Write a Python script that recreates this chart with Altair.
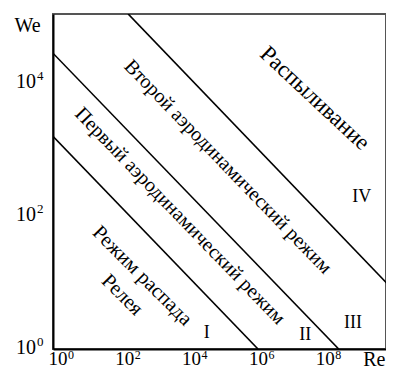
import altair as alt
import pandas as pd

# Boundary lines (Re, We endpoints)
line_id = ["I", "I", "II", "II", "III", "III"]
line_re = [0.5, 6.9e5, 0.5, 1.8e8, 89, 7.6e9]
line_we = [1585, 1, 28200, 1, 1.1e5, 7.8]

# Region labels
label_text = ["Распыливание", "Второй аэродинамический режим", "Первый аэродинамический режим",
              "Режим распада", "Релея", "I", "II", "III", "IV"]
label_re = [3.5e7, 8.7e4, 3.2e3, 234, 59, 2.0e4, 1.8e7, 4.8e8, 8.9e8]
label_we = [5900, 550, 100, 12.6, 6.5, 1.74, 1.62, 2.5, 194]
label_angle = [43, 46, 46, 45, 45, 0, 0, 0, 0]
label_size = [23, 20, 20, 20.5, 20.5, 18, 18, 18, 18]

# Tick labels (10^n)
x_ticks = [1, 1e2, 1e4, 1e6, 1e8]
x_exp = ["0", "2", "4", "6", "8"]
y_ticks = [1, 1e2, 1e4]
y_exp = ["0", "2", "4"]

FONT = "Liberation Serif"
RE_MIN, RE_MAX = 0.501, 4.7e9
WE_MIN, WE_MAX = 1, 1.096e5

lines_df = pd.DataFrame({"id": line_id, "Re": line_re, "We": line_we})
labels_df = pd.DataFrame({"text": label_text, "Re": label_re, "We": label_we,
                          "angle": label_angle, "size": label_size})
xt_df = pd.DataFrame({"Re": x_ticks, "We": [WE_MIN] * len(x_ticks), "base": ["10"] * len(x_ticks), "exp": x_exp})
yt_df = pd.DataFrame({"Re": [RE_MIN] * len(y_ticks), "We": y_ticks, "base": ["10"] * len(y_ticks), "exp": y_exp})

xs = alt.Scale(type="log", domain=[RE_MIN, RE_MAX])
ys = alt.Scale(type="log", domain=[WE_MIN, WE_MAX])

x_axis = alt.Axis(labels=False, grid=False, ticks=False,
                  domainColor="black", domainWidth=2,
                  title="Re", titleFont=FONT, titleFontSize=20, titleFontWeight="normal",
                  titleColor="black", titleX=332, titleY=16, titleAlign="right",
                  titleBaseline="alphabetic", titleAngle=0)
y_axis = alt.Axis(labels=False, grid=False, ticks=False,
                  domainColor="black", domainWidth=2,
                  title="We", titleFont=FONT, titleFontSize=20, titleFontWeight="normal",
                  titleColor="black", titleX=-26, titleY=11, titleAlign="center",
                  titleBaseline="middle", titleAngle=0)

lines = alt.Chart(lines_df).mark_line(color="black", strokeWidth=1.6, clip=True).encode(
    x=alt.X("Re:Q", scale=xs, axis=x_axis),
    y=alt.Y("We:Q", scale=ys, axis=y_axis),
    detail="id:N",
)

texts = alt.Chart(labels_df).mark_text(font=FONT, color="#000", align="center",
                                        baseline="middle").encode(
    x=alt.X("Re:Q", scale=xs),
    y=alt.Y("We:Q", scale=ys),
    text="text:N",
    angle=alt.Angle("angle:Q", scale=None),
    size=alt.Size("size:Q", scale=None),
)

xt_base = alt.Chart(xt_df).mark_text(font=FONT, fontSize=19, color="#000", align="center",
                                      baseline="alphabetic", dx=-5, dy=16).encode(
    x=alt.X("Re:Q", scale=xs), y=alt.Y("We:Q", scale=ys), text="base:N")
xt_exp = alt.Chart(xt_df).mark_text(font=FONT, fontSize=12, color="#000", align="left",
                                     baseline="alphabetic", dx=5, dy=10).encode(
    x=alt.X("Re:Q", scale=xs), y=alt.Y("We:Q", scale=ys), text="exp:N")
yt_base = alt.Chart(yt_df).mark_text(font=FONT, fontSize=20, color="#000", align="right",
                                      baseline="alphabetic", dx=-17, dy=5).encode(
    x=alt.X("Re:Q", scale=xs), y=alt.Y("We:Q", scale=ys), text="base:N")
yt_exp = alt.Chart(yt_df).mark_text(font=FONT, fontSize=13, color="#000", align="left",
                                     baseline="alphabetic", dx=-16, dy=-3).encode(
    x=alt.X("Re:Q", scale=xs), y=alt.Y("We:Q", scale=ys), text="exp:N")

chart = (lines + texts + xt_base + xt_exp + yt_base + yt_exp).properties(
    width=333, height=335,
    autosize=alt.AutoSizeParams(type="none"),
    padding={"left": 45, "top": 6, "right": 0, "bottom": 19},
).configure_view(stroke="#555", strokeWidth=2)

chart.save("out.html", embed_options={"renderer": "svg", "actions": False})
